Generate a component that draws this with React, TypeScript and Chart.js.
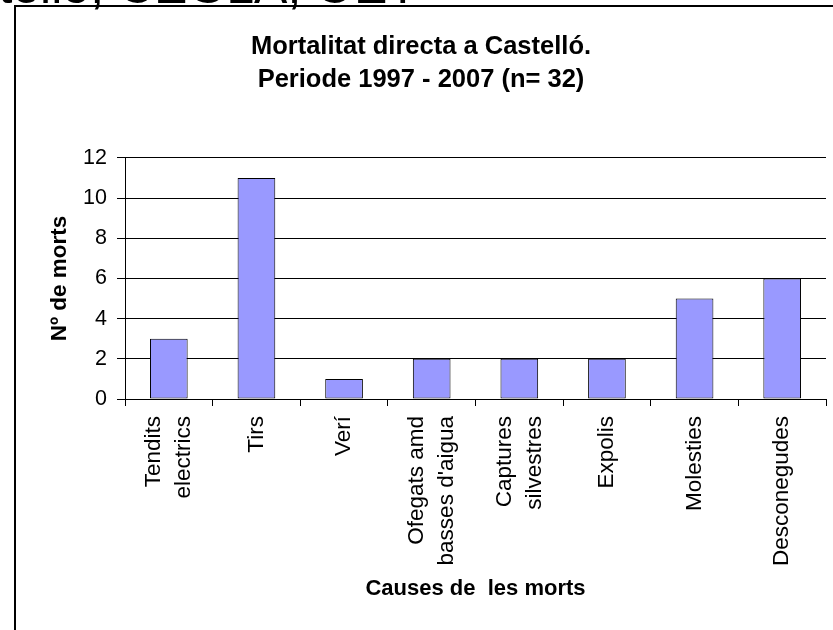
import React, { useEffect, useRef } from "react";
import { Chart, registerables } from "chart.js";

Chart.register(...registerables);

const categories: (string | string[])[] = [
  ["Tendits", "electrics"],
  "Tirs",
  "Verí",
  ["Ofegats amd", "basses d'aigua"],
  ["Captures", "silvestres"],
  "Expolis",
  "Molesties",
  "Desconegudes",
];
const deaths = [3, 11, 1, 2, 2, 2, 5, 6];
const titleLines = ["Mortalitat directa a Castelló.", "Periode 1997 - 2007 (n= 32)"];
const yTitle = "Nº de morts";
const xTitle = "Causes de  les morts";
const headerText = "Castelló, CEGLA, OET";

const FONT = "'Liberation Sans', Arial, Helvetica, sans-serif";

const centerMultiline = {
  id: "centerMultiline",
  beforeDraw(chart: any) {
    const s: any = chart.scales.x;
    if (!s) return;
    const items = s.getLabelItems(chart.chartArea);
    for (const it of items) {
      if (Array.isArray(it.label) && !it._shifted) {
        it.textOffset -= (it.font.lineHeight * (it.label.length - 1)) / 2;
        it._shifted = true;
      }
    }
  },
};

export default function App() {
  const ref = useRef<HTMLCanvasElement>(null);
  useEffect(() => {
    if (!ref.current) return;
    const chart = new Chart(ref.current, {
      type: "bar",
      data: {
        labels: categories,
        datasets: [
          {
            data: deaths,
            backgroundColor: "#9999FF",
            borderColor: "#000000",
            borderWidth: 1,
            borderSkipped: false,
            barPercentage: 0.43,
            categoryPercentage: 1,
          },
        ],
      },
      options: {
        animation: false,
        responsive: false,
        layout: { padding: { top: 0, left: 0, right: 10, bottom: 44.5 } },
        plugins: {
          legend: { display: false },
          tooltip: { enabled: false },
          title: {
            display: true,
            text: titleLines,
            color: "#000",
            font: { family: FONT, size: 25.5, weight: "bold", lineHeight: 1.28 },
            padding: { top: 24, bottom: 61.7 },
          },
        },
        scales: {
          x: {
            afterFit: (scale: any) => {
              scale.height = 203.5;
            },
            grid: {
              display: true,
              drawOnChartArea: false,
              drawTicks: true,
              tickLength: 7,
              color: "#000",
              offset: true,
            },
            border: { display: true, color: "#000", width: 1 },
            ticks: {
              autoSkip: false,
              maxRotation: 90,
              minRotation: 90,
              padding: 10,
              color: "#000",
              font: { family: FONT, size: 22.5, lineHeight: 1.333 },
            },
            title: {
              display: true,
              text: xTitle,
              color: "#000",
              font: { family: FONT, size: 22, weight: "bold" },
              padding: { top: 0, bottom: 0 },
            },
          },
          y: {
            min: 0,
            max: 12,
            afterFit: (scale: any) => {
              scale.width = 109;
            },
            grid: { color: "#000", tickLength: 8, drawTicks: true },
            border: { display: true, color: "#000", width: 1 },
            ticks: {
              stepSize: 2,
              padding: 10,
              color: "#000",
              font: { family: FONT, size: 21.5 },
            },
            title: {
              display: true,
              text: yTitle,
              color: "#000",
              font: { family: FONT, size: 22.5, weight: "bold" },
              padding: { top: 30, bottom: 0 },
            },
          },
        },
      },
      plugins: [centerMultiline],
    });
    return () => chart.destroy();
  }, []);

  return (
    <div
      style={{
        position: "fixed",
        left: 0,
        top: 0,
        width: 833,
        height: 630,
        overflow: "hidden",
        background: "#fff",
      }}
    >
      <span
        style={{
          position: "absolute",
          right: 415,
          top: -39,
          fontFamily: FONT,
          fontSize: 50,
          lineHeight: "50px",
          whiteSpace: "nowrap",
          color: "#000",
        }}
      >
        {headerText}
      </span>
      <div
        style={{
          position: "absolute",
          left: 14,
          top: 5,
          width: 840,
          height: 700,
          border: "2px solid #000",
        }}
      >
        <canvas
          ref={ref}
          width={820}
          height={640}
          style={{ position: "absolute", left: 0, top: 0, width: 820, height: 640 }}
        />
      </div>
    </div>
  );
}
